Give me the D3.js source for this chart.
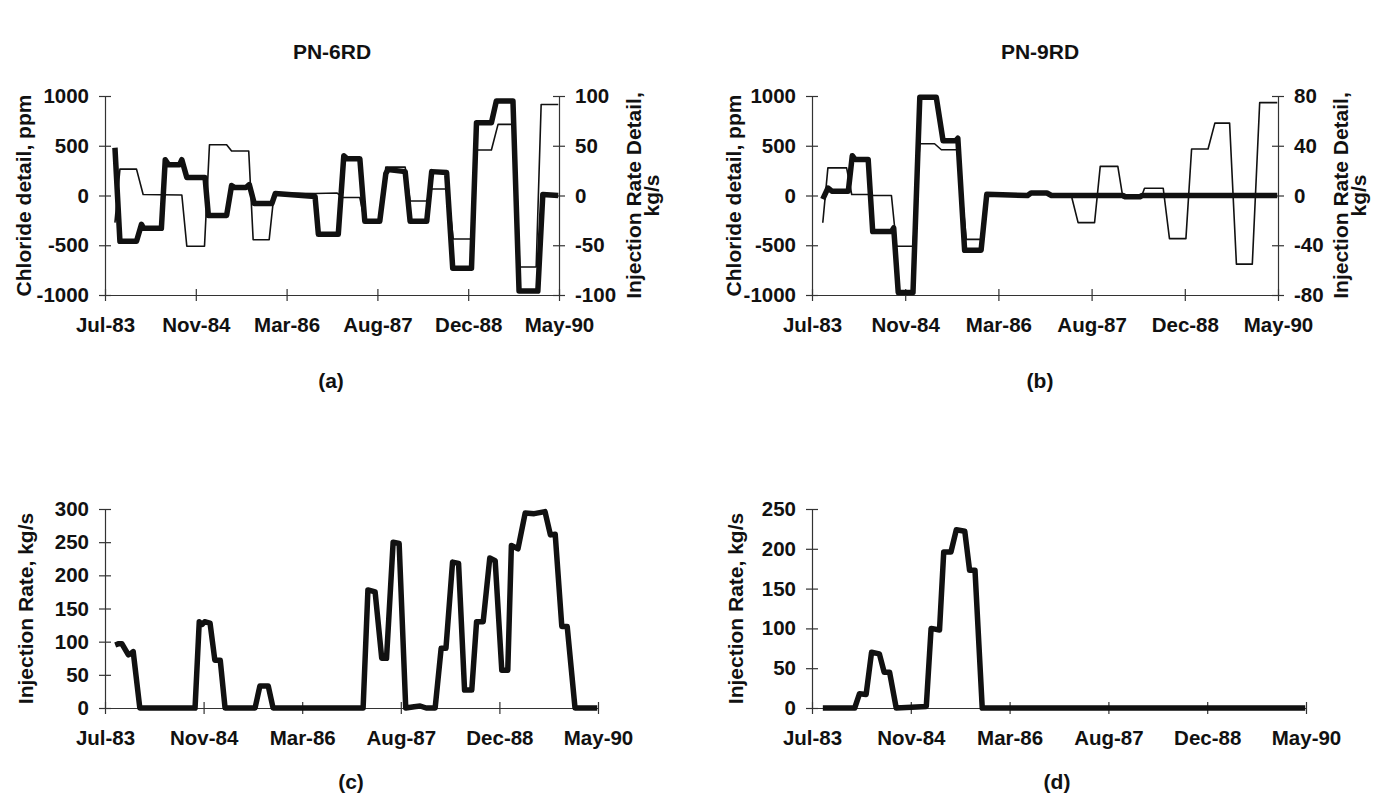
<!DOCTYPE html>
<html>
<head>
<meta charset="utf-8">
<script src="https://cdn.jsdelivr.net/npm/d3@7/dist/d3.min.js"></script>
<style>
  html, body { margin: 0; padding: 0; background: #fff; }
  svg { display: block; }
  text { font-family: "Liberation Sans", Arial, Helvetica, sans-serif; font-weight: bold; fill: #111; }
</style>
</head>
<body>
<svg id="chart" width="1383" height="799"></svg>
<script>
// ---------------- DATA (time in months after Jul-1983, value) ----------------
// x tick labels (Excel date axis: major unit 500 days from 1-Jul-1983)
const xTickLabels = ["Jul-83", "Nov-84", "Mar-86", "Aug-87", "Dec-88", "May-90"];
const xTickDays = [0, 500, 1000, 1500, 2000, 2500];

// Panel (a) PN-6RD : chloride detail (ppm, left axis) – thin line
const chlorA = [[1.8,-272],[2.7,265],[5.7,265],[6.9,10],[10.2,8],[13.9,5],[14.8,-510],[18.0,-510],[18.9,510],[22.0,510],[22.9,447],[26.0,447],[26.8,-444],[29.7,-444],[30.6,25],[38.0,20],[42.0,25],[43.0,-20],[46.1,-20],[47.0,-270],[49.7,-270],[50.8,285],[54.3,285],[55.2,-56],[58.2,-56],[59.1,66],[62.0,66],[63.0,-437],[66.3,-437],[67.2,457],[69.9,457],[71.1,715],[74.1,715],[75.0,-718],[78.0,-718],[78.9,914],[82,914]];
// Panel (a) PN-6RD : injection rate detail (kg/s, right axis) – thick line
const injDetA = [[1.8,48],[2.7,-46],[5.7,-46],[6.6,-29],[7.0,-33],[10.2,-33],[10.9,36],[11.5,31],[13.5,31],[13.9,36],[14.8,18],[18.1,18],[18.7,-20],[22.0,-20],[22.9,10],[23.5,8],[25.5,8],[26.1,11],[27.0,-8],[30.2,-8],[30.8,2],[38.0,-1],[38.6,-39],[42.2,-39],[43.2,40],[43.8,37],[46.1,37],[47.0,-26],[49.7,-26],[50.8,22],[51.2,26],[54.3,24],[55.2,-26],[58.2,-26],[59.1,24],[61.8,23],[62.9,-73],[66.3,-73],[67.2,73],[69.9,73],[70.8,95],[73.8,95],[74.9,-96],[78.3,-96],[79.2,1],[82,0]];

// Panel (b) PN-9RD : chloride detail (ppm, left axis) – thin line
const chlorB = [[1.9,-274],[2.8,278],[6.1,278],[7.0,10],[10.2,10],[10.8,0],[14.0,0],[14.9,-510],[17.8,-510],[19.0,520],[21.6,520],[22.8,460],[25.7,460],[27.2,-441],[29.8,-441],[30.8,10],[37.9,5],[38.5,27],[41.4,27],[42.2,0],[45.7,0],[46.9,-273],[49.8,-273],[50.8,293],[53.9,293],[54.8,-23],[58.0,-23],[58.6,73],[61.9,73],[63.0,-433],[65.9,-433],[66.9,467],[69.8,467],[71.0,727],[73.6,727],[74.8,-690],[77.6,-690],[78.9,933],[82,933]];
// Panel (b) PN-9RD : injection rate detail (kg/s, right axis) – thick line
const injDetB = [[1.9,-3],[2.8,6],[3.5,3.5],[6.4,3.5],[7.1,32],[7.6,29],[9.9,29],[10.7,-29],[14.0,-29],[14.4,-26],[15.2,-78],[17.8,-78],[19.0,79],[21.9,79],[23.1,44],[25.3,44],[25.7,46],[26.9,-44],[29.8,-44],[30.8,1],[38.0,0],[38.6,2],[41.4,2],[42.2,0],[54.8,0],[55.2,-1],[57.8,-1],[58.2,0],[82,0]];

// Panel (c) PN-6RD : injection rate (kg/s)
const injC = [[1.7,95],[2.3,97],[2.8,97],[3.9,80],[4.3,82],[4.7,85],[5.8,0],[15.0,0],[15.7,130],[16.2,126],[16.6,130],[17.5,128],[18.3,72],[19.2,72],[20.0,0],[25.0,0],[25.8,33],[27.2,33],[28.0,0],[43.0,0],[43.8,178],[45.0,175],[46.1,75],[46.9,75],[48.0,250],[49.0,248],[50.1,0],[51.5,2],[52.5,3],[53.5,0],[55.0,0],[56.0,90],[56.8,90],[57.9,220],[58.9,218],[59.9,27],[61.1,27],[61.9,130],[63.0,130],[64.1,226],[65.0,222],[66.1,57],[67.1,57],[67.7,245],[68.8,240],[70.0,294],[71.5,293],[73.3,296],[74.2,261],[75.0,262],[76.1,123],[77.0,123],[78.3,0],[82,0]];

// Panel (d) PN-9RD : injection rate (kg/s)
const injD = [[1.8,0],[7.1,0],[7.9,18],[9.0,17],[9.9,70],[11.2,68],[12.0,45],[12.9,45],[14.0,0],[19.0,2],[19.8,100],[21.2,98],[21.9,196],[23.1,196],[24.0,224],[25.4,222],[26.2,173],[27.1,173],[28.3,0],[82,0]];

// axis tick values
const chlorTicks = [-1000, -500, 0, 500, 1000];
const injDetTicksA = [-100, -50, 0, 50, 100];
const injDetTicksB = [-80, -40, 0, 40, 80];
const injTicksC = [0, 50, 100, 150, 200, 250, 300];
const injTicksD = [0, 50, 100, 150, 200, 250];

const titles = ["PN-6RD", "PN-9RD"];
const panelLabels = ["(a)", "(b)", "(c)", "(d)"];

// ---------------- DRAWING ----------------
const START = new Date(1983, 6, 1);
const END = d3.timeDay.offset(START, 2500);
const toDate = m => new Date(START.getTime() + m * 30.44 * 864e5);
const xTicks = xTickDays.map(d => d3.timeDay.offset(START, d));

const svg = d3.select("#chart");
const FS = 20.5;     // tick labels
const LFS = 21;      // axis titles
const axisColor = "#333";
const plain = d => String(d);

function styleAxis(g, orient) {
  g.select(".domain").attr("stroke", axisColor).attr("stroke-width", 1.2);
  g.selectAll(".tick line").attr("stroke", axisColor).attr("stroke-width", 1.2);
  if (orient === "v") g.selectAll(".tick line").attr("x1", -6).attr("x2", 6);
  else g.selectAll(".tick line").attr("y1", -6).attr("y2", 6);
  g.selectAll(".tick text").attr("font-size", FS).attr("font-family", null).attr("fill", "#111");
}

function panel(opt) {
  const x = d3.scaleTime().domain([START, END]).range([opt.x0, opt.x1]);
  const y = d3.scaleLinear().domain(opt.yDomain).range([opt.yBot, opt.yTop]);
  const g = svg.append("g");

  // x axis
  const xa = g.append("g").attr("transform", `translate(0,${opt.yBot})`)
    .call(d3.axisBottom(x).tickValues(xTicks).tickSize(6).tickSizeOuter(0).tickPadding(16)
      .tickFormat((d, i) => xTickLabels[i]));
  styleAxis(xa, "h");
  xa.selectAll(".tick text").attr("dy", "0.71em");

  // left axis
  const ya = g.append("g").attr("transform", `translate(${opt.x0},0)`)
    .call(d3.axisLeft(y).tickValues(opt.yTicks).tickFormat(plain).tickSize(6).tickSizeOuter(0).tickPadding(10));
  styleAxis(ya, "v");

  g.append("text").attr("font-size", LFS)
    .attr("transform", `translate(${opt.yLabelX},${(opt.yTop + opt.yBot) / 2}) rotate(-90)`)
    .attr("text-anchor", "middle").attr("dominant-baseline", "central").text(opt.yLabel);

  const line = (sc) => d3.line().x(d => x(toDate(d[0]))).y(d => sc(d[1]));

  if (opt.y2Domain) {
    const y2 = d3.scaleLinear().domain(opt.y2Domain).range([opt.yBot, opt.yTop]);
    const ra = g.append("g").attr("transform", `translate(${opt.x1},0)`)
      .call(d3.axisRight(y2).tickValues(opt.y2Ticks).tickFormat(plain).tickSize(6).tickSizeOuter(0).tickPadding(10));
    styleAxis(ra, "v");
    const t = g.append("text").attr("font-size", LFS)
      .attr("transform", `translate(${opt.y2LabelX},${(opt.yTop + opt.yBot) / 2}) rotate(-90)`)
      .attr("text-anchor", "middle");
    t.append("tspan").attr("x", 0).attr("dy", 0).text("Injection Rate Detail,");
    t.append("tspan").attr("x", 0).attr("dy", 18).text("kg/s");

    // thin: chloride detail
    g.append("path").datum(opt.thin).attr("fill", "none").attr("stroke", "#111")
      .attr("stroke-width", 1.6).attr("stroke-linejoin", "round").attr("d", line(y));
    // thick: injection rate detail
    g.append("path").datum(opt.thick).attr("fill", "none").attr("stroke", "#111")
      .attr("stroke-width", 5.5).attr("stroke-linejoin", "round").attr("d", line(y2));
  } else {
    g.append("path").datum(opt.thick).attr("fill", "none").attr("stroke", "#111")
      .attr("stroke-width", 5.5).attr("stroke-linejoin", "round").attr("d", line(y));
  }

  g.append("text").attr("font-size", LFS).attr("text-anchor", "middle")
    .attr("x", opt.labelX).attr("y", opt.labelY).text(opt.label);
  if (opt.title) {
    g.append("text").attr("font-size", LFS).attr("text-anchor", "middle")
      .attr("x", opt.titleX).attr("y", 59).text(opt.title);
  }
}

panel({ x0: 105, x1: 559, yTop: 96, yBot: 295, yDomain: [-1000, 1000], yTicks: chlorTicks,
  y2Domain: [-100, 100], y2Ticks: injDetTicksA, thin: chlorA, thick: injDetA,
  yLabel: "Chloride detail, ppm", yLabelX: 23, y2LabelX: 641,
  label: panelLabels[0], labelX: 331, labelY: 388, title: titles[0], titleX: 332 });

panel({ x0: 812, x1: 1278, yTop: 96, yBot: 295, yDomain: [-1000, 1000], yTicks: chlorTicks,
  y2Domain: [-80, 80], y2Ticks: injDetTicksB, thin: chlorB, thick: injDetB,
  yLabel: "Chloride detail, ppm", yLabelX: 733, y2LabelX: 1348,
  label: panelLabels[1], labelX: 1040, labelY: 388, title: titles[1], titleX: 1040 });

panel({ x0: 105, x1: 598, yTop: 509, yBot: 708, yDomain: [0, 300], yTicks: injTicksC,
  thick: injC, yLabel: "Injection Rate, kg/s", yLabelX: 25,
  label: panelLabels[2], labelX: 351, labelY: 789 });

panel({ x0: 812, x1: 1306, yTop: 509, yBot: 708, yDomain: [0, 250], yTicks: injTicksD,
  thick: injD, yLabel: "Injection Rate, kg/s", yLabelX: 735,
  label: panelLabels[3], labelX: 1057, labelY: 789 });
</script>
</body>
</html>
